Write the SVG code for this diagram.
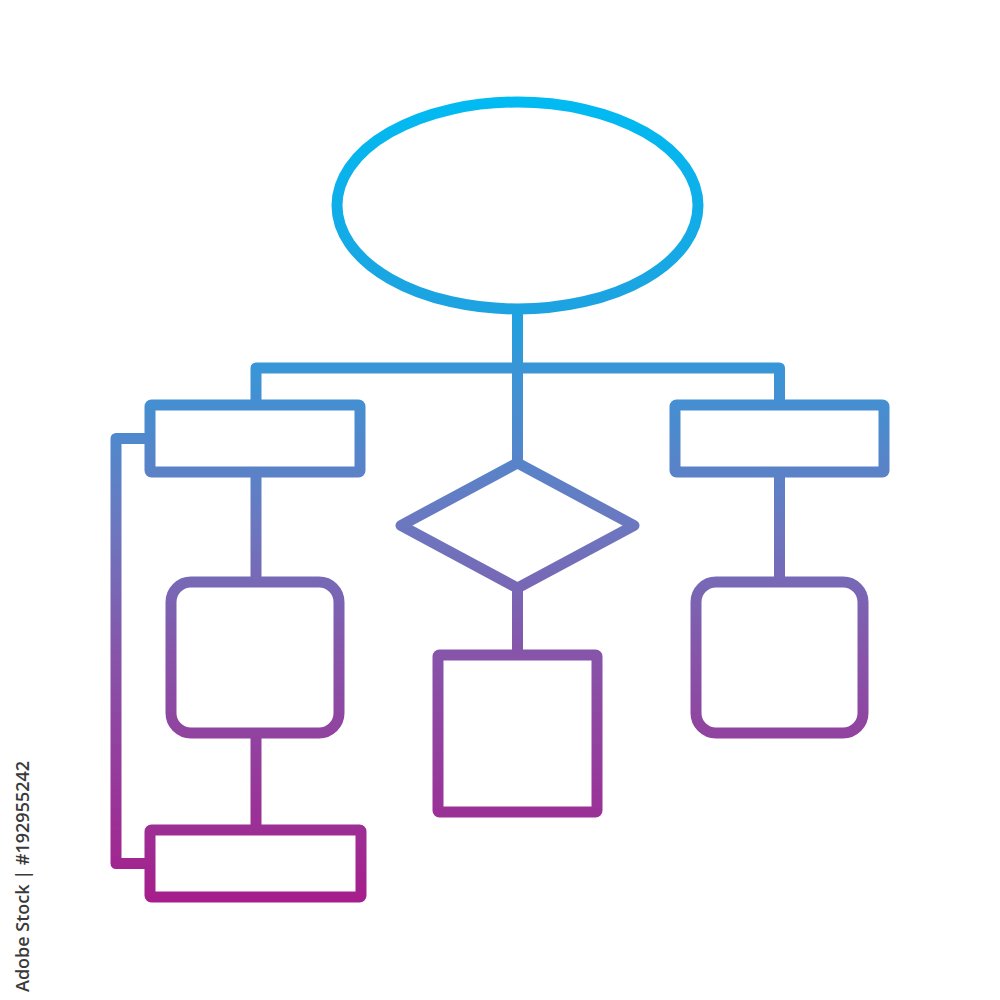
<svg xmlns="http://www.w3.org/2000/svg" width="1000" height="1000" viewBox="0 0 1000 1000">
<defs>
<linearGradient id="g" gradientUnits="userSpaceOnUse" x1="0" y1="97" x2="0" y2="902">
<stop offset="0" stop-color="#00bbf2"/>
<stop offset="0.27" stop-color="#1ea2e0"/>
<stop offset="0.34" stop-color="#3a95d6"/>
<stop offset="0.53" stop-color="#6b78c0"/>
<stop offset="0.69" stop-color="#8655a9"/>
<stop offset="1" stop-color="#a61e8c"/>
</linearGradient>
<style>
.s{fill:none;stroke:url(#g);stroke-width:11;stroke-linejoin:round;stroke-linecap:butt}
.wm{font-family:"Open Sans","Liberation Sans",sans-serif;font-size:18px;font-weight:600;fill:#3a3a3a}
</style>
</defs>
<rect width="1000" height="1000" fill="#ffffff"/>
<g id="connectors">
<path class="s" d="M517.5,314 V463"/>
<path class="s" d="M256,405 V368 H779.5 V405"/>
<path class="s" d="M256,472 V582"/>
<path class="s" d="M256,733 V830"/>
<path class="s" d="M779.5,472 V582"/>
<path class="s" d="M517.5,588 V655"/>
<path class="s" d="M150,438.5 H116 V863.5 H150"/>
</g>
<g id="start"><ellipse class="s" cx="517.5" cy="205.5" rx="180.5" ry="103.5"/></g>
<g id="rect-left"><rect class="s" x="150" y="405" width="210" height="67" rx="1.5"/></g>
<g id="rect-right"><rect class="s" x="675" y="405" width="209" height="67" rx="1.5"/></g>
<g id="decision"><path class="s" d="M517.5,463 L634,525.5 L517.5,588 L401,525.5 Z"/></g>
<g id="round-left"><rect class="s" x="171" y="582" width="168" height="151" rx="20"/></g>
<g id="round-right"><rect class="s" x="696" y="582" width="167" height="151" rx="20"/></g>
<g id="square"><rect class="s" x="438" y="655" width="159" height="157" rx="1.5"/></g>
<g id="rect-bottom"><rect class="s" x="150" y="830" width="211" height="67" rx="1.5"/></g>
<text class="wm" transform="translate(29,992) rotate(-90)">Adobe Stock | #192955242</text>
</svg>
